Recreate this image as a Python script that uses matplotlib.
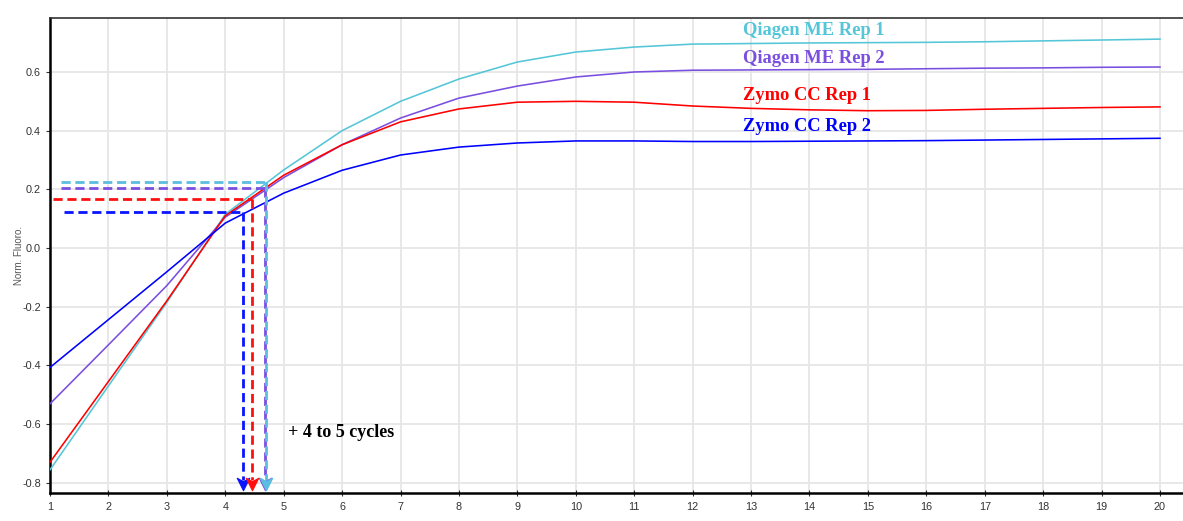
import matplotlib
matplotlib.use("Agg")
import matplotlib.pyplot as plt
from matplotlib.path import Path

# Amplification curves (normalised fluorescence per cycle)
cycles = list(range(1, 21))
qiagen_rep1 = [-0.756, -0.470, -0.185, 0.115, 0.266, 0.400, 0.500, 0.576, 0.634, 0.668,
               0.685, 0.695, 0.697, 0.699, 0.700, 0.701, 0.703, 0.706, 0.709, 0.712]
qiagen_rep2 = [-0.531, -0.330, -0.128, 0.105, 0.240, 0.352, 0.443, 0.511, 0.552, 0.583,
               0.600, 0.606, 0.607, 0.608, 0.609, 0.611, 0.613, 0.614, 0.616, 0.617]
zymo_rep1 = [-0.730, -0.455, -0.180, 0.110, 0.248, 0.352, 0.430, 0.474, 0.497, 0.500,
             0.497, 0.484, 0.476, 0.471, 0.468, 0.469, 0.473, 0.476, 0.479, 0.481]
zymo_rep2 = [-0.407, -0.244, -0.081, 0.085, 0.187, 0.265, 0.317, 0.344, 0.358, 0.365,
             0.365, 0.363, 0.363, 0.364, 0.365, 0.366, 0.368, 0.370, 0.372, 0.374]

series_names = ["Qiagen ME Rep 1", "Qiagen ME Rep 2", "Zymo CC Rep 1", "Zymo CC Rep 2"]
series_values = [qiagen_rep1, qiagen_rep2, zymo_rep1, zymo_rep2]
line_colors = ["#55c6d8", "#7a4fe0", "#ff0000", "#0000ff"]
marker_colors = ["#5bbde0", "#7a4fe0", "#ff1010", "#0a14ff"]

# Threshold level and crossing cycle marked for each curve
thresholds = [0.224, 0.203, 0.168, 0.124]
crossing_cycles = [4.70, 4.675, 4.46, 4.31]
dash_starts = [1.18, 1.18, 1.05, 1.24]
label_y = [0.740, 0.647, 0.520, 0.414]

x_ticks = list(range(1, 21))
y_ticks = [-0.8, -0.6, -0.4, -0.2, 0.0, 0.2, 0.4, 0.6]

# Notched arrowhead pointing down
arrow_head = Path([(-1.0, 1.0), (0.0, -1.0), (1.0, 1.0), (0.0, 0.45), (-1.0, 1.0)],
                  [Path.MOVETO, Path.LINETO, Path.LINETO, Path.LINETO, Path.CLOSEPOLY])

fig = plt.figure(figsize=(11.83, 5.21), dpi=100)
ax = fig.add_axes([50 / 1183, (521 - 493.3) / 521, (1183 - 50) / 1183, (493.3 - 18) / 521])

ax.set_xlim(1, 1 + (1183 - 50) / 58.42)
ax.set_ylim(-0.836, 0.784)
ax.set_xticks(x_ticks)
ax.set_yticks(y_ticks)
ax.set_yticklabels([f"{v:.1f}" for v in y_ticks])
ax.grid(True, color="#e6e6e6", lw=1.3)
ax.set_axisbelow(True)

ax.spines["right"].set_visible(False)
ax.spines["top"].set_color("#333333")
ax.spines["top"].set_linewidth(1.2)
ax.spines["left"].set_linewidth(1.8)
ax.spines["bottom"].set_linewidth(1.8)

ax.tick_params(axis="both", labelsize=7.8, colors="#333333", labelcolor="#333333",
               length=3, width=0.8)
ax.tick_params(axis="x", direction="inout", length=5, pad=4)
for lab in ax.get_xticklabels() + ax.get_yticklabels():
    lab.set_fontfamily("Liberation Sans")

ax.set_xlabel("Cycle", fontsize=7.5, color="#555555", family="Liberation Sans", labelpad=8)
ax.set_ylabel("Norm. Fluoro.", fontsize=7, color="#555555", family="Liberation Sans", labelpad=-1)

for vals, col in zip(series_values, line_colors):
    ax.plot(cycles, vals, color=col, lw=1.15, zorder=3)

# Dashed threshold guides with arrows dropping to the cycle axis
guides = list(zip(thresholds, crossing_cycles, dash_starts, marker_colors))
for thr, ct, x0, col in reversed(guides):
    ax.plot([x0, ct], [thr, thr], color=col, lw=2.0, ls=(0, (3.3, 1.7)), zorder=4)
    ax.plot([ct, ct], [thr, -0.79], color=col, lw=2.0, ls=(0, (3.3, 1.7)), zorder=4)
    ax.plot([ct], [-0.805], marker=arrow_head, markersize=9, color=col,
            markeredgecolor=col, markeredgewidth=0.8, linestyle="none", zorder=5)

for name, y, col in zip(series_names, label_y, line_colors):
    ax.text(12.87, y, name, color=col, fontsize=13.3, fontweight="bold",
            family="Liberation Serif", va="center", ha="left")

ax.text(5.07, -0.63, "+ 4 to 5 cycles", color="black", fontsize=13, fontweight="bold",
        family="Liberation Serif", va="center", ha="left")

fig.savefig("out.png", dpi=100)
